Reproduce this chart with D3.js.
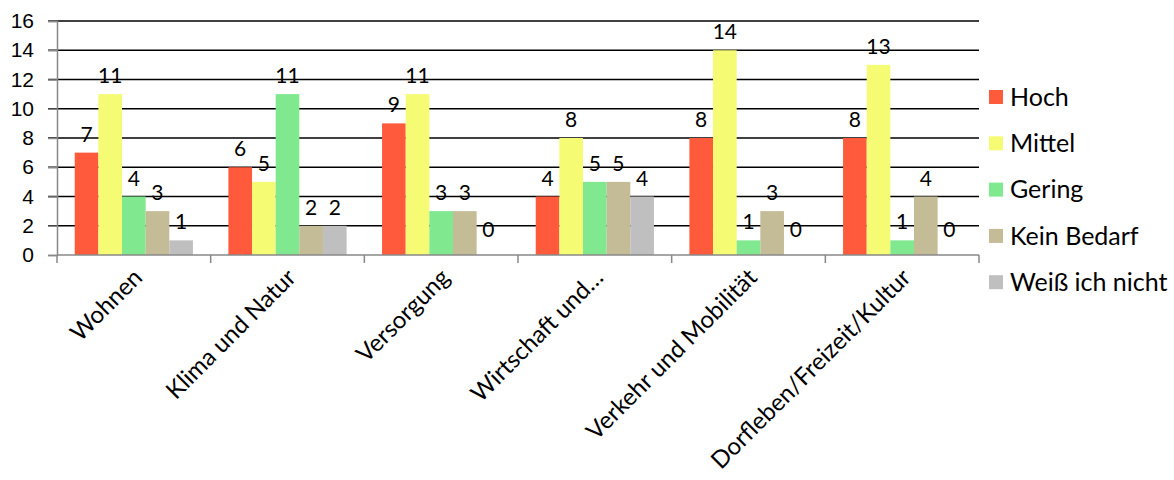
<!DOCTYPE html>
<html>
<head>
<meta charset="utf-8">
<script src="https://cdn.jsdelivr.net/npm/d3@7"></script>
<style>
  html, body { margin: 0; padding: 0; background: #fff; }
  svg { display: block; font-family: Lato, "Open Sans", sans-serif; }
</style>
</head>
<body>
<svg id="chart" width="1174" height="480"></svg>
<script>
// Categories and series of the grouped bar chart
const categories = ["Wohnen", "Klima und Natur", "Versorgung", "Wirtschaft und…", "Verkehr und Mobilität", "Dorfleben/Freizeit/Kultur"];
const seriesNames = ["Hoch", "Mittel", "Gering", "Kein Bedarf", "Weiß ich nicht"];
const hoch = [7, 6, 9, 4, 8, 8];
const mittel = [11, 5, 11, 8, 14, 13];
const gering = [4, 11, 3, 5, 1, 1];
const keinBedarf = [3, 2, 3, 5, 3, 4];
const weissNicht = [1, 2, 0, 4, 0, 0];
const yTicks = [0, 2, 4, 6, 8, 10, 12, 14, 16];
const colors = ["#FF5A3C", "#F5FB73", "#80E88F", "#C4BB97", "#BFBFBF"];

const seriesValues = [hoch, mittel, gering, keinBedarf, weissNicht];

const svg = d3.select("#chart");
const plot = { left: 57, right: 979, top: 21, bottom: 255 };

const x0 = d3.scaleBand().domain(categories).range([plot.left, plot.right]).paddingInner(0).paddingOuter(0);
// Bars take the middle of each band, with 150% gap width between groups
const groupInner = x0.bandwidth() * (5 / 6.5);
const x1 = d3.scaleBand().domain(seriesNames).range([0, groupInner]);
const y = d3.scaleLinear().domain([0, 16]).range([plot.bottom, plot.top]);

// Horizontal gridlines
svg.append("g")
  .selectAll("line")
  .data(yTicks.filter(t => t > 0))
  .join("line")
  .attr("x1", plot.left - 9).attr("x2", plot.right)
  .attr("y1", d => y(d)).attr("y2", d => y(d))
  .attr("stroke", "#000").attr("stroke-width", 1.5);

// Y axis labels and line
const yAxis = d3.axisLeft(y).tickValues(yTicks).tickSize(9).tickPadding(14).tickFormat(d3.format("d"));
const gy = svg.append("g").attr("transform", `translate(${plot.left},0)`).call(yAxis);
gy.select(".domain").attr("stroke", "#888").attr("stroke-width", 1.5);
gy.selectAll(".tick line").attr("stroke", "#888").attr("stroke-width", 1.5);
gy.selectAll(".tick text").attr("font-size", 21).attr("fill", "#000");

// Bars
const groups = svg.append("g")
  .selectAll("g")
  .data(categories)
  .join("g")
  .attr("transform", d => `translate(${x0(d) + (x0.bandwidth() - groupInner) / 2},0)`);

groups.selectAll("rect")
  .data((c, i) => seriesNames.map((s, j) => ({ s, v: seriesValues[j][i], c: colors[j] })))
  .join("rect")
  .attr("x", d => x1(d.s))
  .attr("width", x1.bandwidth())
  .attr("y", d => y(d.v))
  .attr("height", d => y(0) - y(d.v))
  .attr("fill", d => d.c);

// Value labels above each bar
groups.selectAll("text")
  .data((c, i) => seriesNames.map((s, j) => ({ s, v: seriesValues[j][i] })))
  .join("text")
  .attr("x", d => x1(d.s) + x1.bandwidth() / 2)
  .attr("y", d => y(d.v) - (d.v === 0 ? 18 : 11))
  .attr("text-anchor", "middle")
  .attr("font-size", 21)
  .attr("fill", "#000")
  .text(d => d.v);

// X axis with ticks at the category boundaries
const gx = svg.append("g");
gx.append("line")
  .attr("x1", plot.left).attr("x2", plot.right)
  .attr("y1", plot.bottom).attr("y2", plot.bottom)
  .attr("stroke", "#888").attr("stroke-width", 1.5);
gx.selectAll("line.tick")
  .data(categories.map(c => x0(c)).concat([plot.right]))
  .join("line")
  .attr("class", "tick")
  .attr("x1", d => d).attr("x2", d => d)
  .attr("y1", plot.bottom).attr("y2", plot.bottom + 8)
  .attr("stroke", "#888").attr("stroke-width", 1.5);

// Rotated category labels
gx.selectAll("text")
  .data(categories)
  .join("text")
  .attr("transform", d => `translate(${x0(d) + x0.bandwidth() / 2 + 10},${plot.bottom + 24}) rotate(-45)`)
  .attr("text-anchor", "end")
  .attr("font-size", 24)
  .attr("fill", "#000")
  .text(d => d);

// Legend
const legend = svg.append("g")
  .selectAll("g")
  .data(seriesNames)
  .join("g")
  .attr("transform", (d, i) => `translate(989,${97 + i * 46.3})`);
legend.append("rect")
  .attr("x", 0).attr("y", -7).attr("width", 14).attr("height", 14)
  .attr("fill", (d, i) => colors[i]);
legend.append("text")
  .attr("x", 21).attr("y", 0).attr("dy", "0.35em")
  .attr("font-size", 25)
  .attr("fill", "#000")
  .text(d => d);
</script>
</body>
</html>
